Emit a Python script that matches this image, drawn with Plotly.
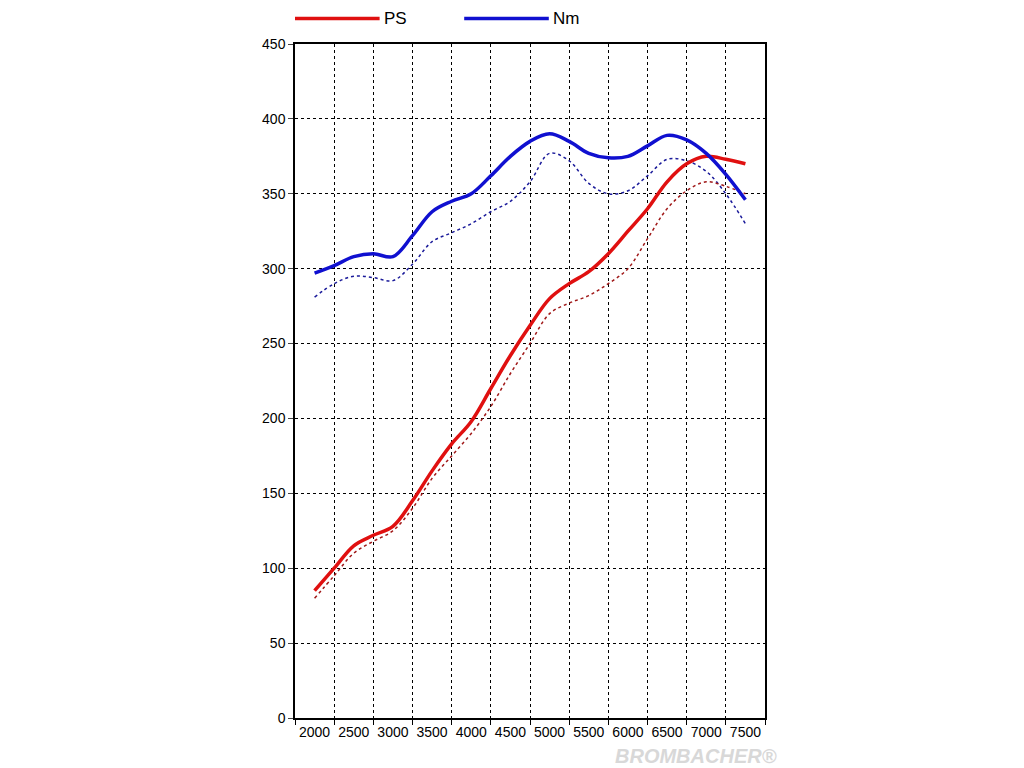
import plotly.graph_objects as go

rpm = [2000, 2250, 2500, 2750, 3000, 3250, 3500, 3750, 4000, 4250, 4500, 4750,
       5000, 5250, 5500, 5750, 6000, 6250, 6500, 6750, 7000, 7250, 7500]

ps = [85, 100, 115, 122, 128, 145, 165, 183, 198, 220, 242, 262,
      280, 290, 298, 310, 325, 340, 358, 370, 375, 373, 370]
nm = [297, 302, 308, 310, 308, 322, 338, 345, 350, 362, 375, 385,
      390, 385, 377, 374, 375, 382, 389, 386, 377, 363, 346]
ps_serie = [80, 95, 110, 118, 125, 140, 160, 175, 190, 208, 230, 250,
            270, 277, 282, 290, 300, 320, 340, 352, 358, 355, 350]
nm_serie = [281, 290, 295, 294, 292, 303, 318, 324, 330, 338, 345, 358,
            377, 372, 357, 350, 352, 362, 373, 372, 365, 350, 330]

x_labels = [2000, 2500, 3000, 3500, 4000, 4500, 5000, 5500, 6000, 6500, 7000, 7500]

PS_COLOR = "#e01010"
NM_COLOR = "#1010d0"

fig = go.Figure()
# Serienwerte (gepunktet)
fig.add_trace(go.Scatter(x=rpm, y=nm_serie, mode="lines",
                         line=dict(color="#1a1a9a", width=1.5, dash="dot", shape="spline")))
fig.add_trace(go.Scatter(x=rpm, y=ps_serie, mode="lines",
                         line=dict(color="#a01818", width=1.5, dash="dot", shape="spline")))
# Tuning
fig.add_trace(go.Scatter(x=rpm, y=ps, mode="lines", name="PS",
                         line=dict(color=PS_COLOR, width=3.5, shape="spline")))
fig.add_trace(go.Scatter(x=rpm, y=nm, mode="lines", name="Nm",
                         line=dict(color=NM_COLOR, width=3.5, shape="spline")))

# Legende oben, von Hand
for x0, col, name in [(0.0, PS_COLOR, "PS"), (0.36, NM_COLOR, "Nm")]:
    fig.add_shape(type="line", xref="paper", yref="paper", x0=x0, x1=x0 + 0.18,
                  y0=1.038, y1=1.038, line=dict(color=col, width=3.5))
    fig.add_annotation(text=name, xref="paper", yref="paper", x=x0 + 0.185, y=1.038,
                       xanchor="left", yanchor="middle", showarrow=False,
                       font=dict(size=17))

fig.add_annotation(text="<i><b>BROMBACHER®</b></i>", x=1.03, y=-0.075, xref="paper",
                   yref="paper", xanchor="right", showarrow=False,
                   font=dict(size=20, color="#d8d8d8"))

fig.update_layout(
    width=1024, height=768, showlegend=False,
    margin=dict(l=287, r=267, t=36, b=58, autoexpand=False),
    plot_bgcolor="white", paper_bgcolor="white",
    font=dict(family="Liberation Sans, Arial", size=14, color="black"),
)
fig.update_xaxes(range=[1750, 7750], tickvals=x_labels, ticks="", showgrid=False,
                 showline=True, linecolor="black", linewidth=1.5, mirror=True,
                 automargin=False,
                 minor=dict(tick0=2250, dtick=500, showgrid=True, griddash="dot",
                            gridcolor="black", gridwidth=1, ticks="outside", ticklen=5,
                            tickcolor="black"))
fig.update_yaxes(range=[0, 450], dtick=50, showgrid=True, griddash="dot", gridcolor="black",
                 gridwidth=1, ticks="outside", ticklen=5, showline=True, linecolor="black",
                 linewidth=1.5, mirror=True, zeroline=False, automargin=False)

fig.write_html("out.html")
